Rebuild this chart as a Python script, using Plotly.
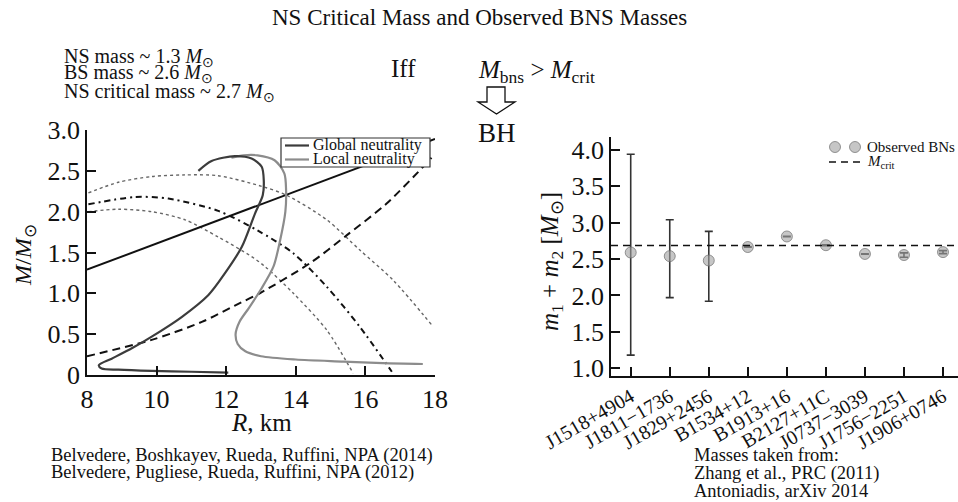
import plotly.graph_objects as go

W, H = 958, 502
FONT = "Liberation Serif"

# ---------------- Left panel data (R in km, M in solar masses) ----------------
global_R = [12.06, 11.0, 9.86, 8.9, 8.42, 8.34, 8.71, 9.3, 9.86, 10.72, 11.49, 11.97, 12.45, 12.83, 13.05, 13.08, 13.02, 12.73, 12.25, 11.58, 11.2]
global_M = [0.03, 0.04, 0.05, 0.065, 0.08, 0.12, 0.2, 0.33, 0.47, 0.71, 0.98, 1.25, 1.57, 1.98, 2.2, 2.38, 2.55, 2.65, 2.68, 2.62, 2.5]

local_R = [17.65, 16.5, 15.37, 14.0, 13.0, 12.55, 12.33, 12.27, 12.38, 12.65, 13.0, 13.36, 13.55, 13.7, 13.72, 13.67, 13.39, 12.9, 12.5, 12.15]
local_M = [0.135, 0.145, 0.165, 0.19, 0.23, 0.29, 0.38, 0.5, 0.65, 0.82, 1.05, 1.33, 1.65, 2.0, 2.27, 2.47, 2.63, 2.69, 2.69, 2.66]

line_R = [8.0, 18.0]
line_M = [1.29, 2.89]

dashed_R = [8.0, 9.86, 11.3, 12.25, 13.0, 14.41, 15.46, 16.61, 17.66, 17.9]
dashed_M = [0.23, 0.43, 0.65, 0.85, 1.01, 1.37, 1.71, 2.1, 2.55, 2.66]

dotA_R = [8.04, 8.9, 9.86, 10.82, 11.77, 13.02, 13.74, 14.89, 15.84, 16.8, 17.95]
dotA_M = [2.23, 2.36, 2.43, 2.45, 2.44, 2.31, 2.2, 1.9, 1.53, 1.16, 0.59]

dashdot_R = [8.04, 9.38, 10.34, 11.77, 12.9, 13.93, 14.89, 15.84, 16.76]
dashdot_M = [2.09, 2.18, 2.16, 2.01, 1.77, 1.49, 1.08, 0.59, 0.04]

dotB_R = [8.04, 8.9, 9.86, 10.82, 11.77, 12.73, 13.11, 13.93, 14.89, 15.65]
dotB_M = [2.0, 2.03, 2.0, 1.9, 1.69, 1.45, 1.33, 1.0, 0.55, 0.02]

left_xticks = [8, 10, 12, 14, 16, 18]
left_yticks = [0, 0.5, 1.0, 1.5, 2.0, 2.5, 3.0]
left_yticktext = ["0", "0.5", "1.0", "1.5", "2.0", "2.5", "3.0"]

# ---------------- Right panel data ----------------
systems = ["J1518+4904", "J1811\u22121736", "J1829+2456", "B1534+12", "B1913+16",
           "B2127+11C", "J0737\u22123039", "J1756\u22122251", "J1906+0746"]
total_mass = [2.59, 2.54, 2.48, 2.665, 2.81, 2.69, 2.57, 2.555, 2.595]
err_plus = [1.35, 0.50, 0.40, 0.003, 0.002, 0.006, 0.002, 0.03, 0.02]
err_minus = [1.41, 0.57, 0.56, 0.003, 0.002, 0.006, 0.002, 0.03, 0.02]
M_CRIT = 2.685
right_yticks = [1.0, 1.5, 2.0, 2.5, 3.0, 3.5, 4.0]


def px(x):
    return x / W


def py(y):
    return 1 - y / H


fig = go.Figure()

def add_line(R, M, color, width, dash, shape="spline"):
    fig.add_trace(go.Scatter(x=R, y=M, mode="lines", xaxis="x", yaxis="y",
                             line=dict(color=color, width=width, dash=dash, shape=shape, smoothing=0.8),
                             showlegend=False, hoverinfo="skip"))

add_line(dotA_R, dotA_M, "#666666", 1.4, "dot")
add_line(dotB_R, dotB_M, "#666666", 1.4, "dot")
add_line(dashdot_R, dashdot_M, "#111111", 2, "6px,4px,2px,4px")
add_line(dashed_R, dashed_M, "#111111", 2, "8px,5px")
add_line(line_R, line_M, "#111111", 2, "solid", "linear")
add_line(local_R, local_M, "#8c8c8c", 2.2, "solid")
add_line(global_R, global_M, "#3c3c3c", 2.2, "solid")

# Right panel
fig.add_trace(go.Scatter(
    x=systems, y=total_mass, mode="markers", xaxis="x2", yaxis="y2",
    marker=dict(size=11, color="rgba(160,160,160,0.6)", line=dict(color="rgba(110,110,110,0.7)", width=1)),
    error_y=dict(type="data", symmetric=False, array=err_plus, arrayminus=err_minus,
                 color="#333333", thickness=1.6, width=4),
    showlegend=False, hoverinfo="skip"))

axis_common = dict(showline=True, linecolor="#111111", linewidth=1.5, ticks="inside", ticklen=9,
                   tickwidth=1.5, tickcolor="#111111", showgrid=False, zeroline=False, automargin=False,
                   tickfont=dict(family=FONT, size=26, color="#111111"))

fig.update_layout(
    width=W, height=H,
    margin=dict(l=0, r=0, t=0, b=0, autoexpand=False),
    paper_bgcolor="white", plot_bgcolor="white",
    font=dict(family=FONT, color="#111111"),
    xaxis=dict(domain=[px(87), px(435)], range=[8, 18], tickvals=left_xticks, anchor="y", **axis_common),
    yaxis=dict(domain=[py(375), py(130)], range=[0, 3], tickvals=left_yticks, ticktext=left_yticktext,
               anchor="x", **axis_common),
    xaxis2=dict(domain=[px(611), 1.0], range=[-0.505, 8.384], type="category", categoryorder="array",
                categoryarray=systems, tickangle=-30, anchor="y2",
                **{**axis_common, "tickfont": dict(family=FONT, size=20, color="#111111")}),
    yaxis2=dict(domain=[py(375.7), py(136.7)], range=[0.898, 4.18], tickvals=right_yticks,
                tickformat=".1f", anchor="x2", **axis_common),
)

shapes = []
# M_crit line
shapes.append(dict(type="line", xref="x2 domain", x0=0, x1=1, yref="y2", y0=M_CRIT, y1=M_CRIT,
                   line=dict(color="#111111", width=1.6, dash="7px,5px")))
# hollow arrow
pts = [(487, 87), (505, 87), (505, 102), (515, 102), (496.5, 114), (478, 102), (487, 102)]
path = "M " + " L ".join(f"{px(a):.5f},{py(b):.5f}" for a, b in pts) + " Z"
shapes.append(dict(type="path", xref="paper", yref="paper", path=path,
                   line=dict(color="#111111", width=1.3), fillcolor="white"))
# left legend box
shapes.append(dict(type="rect", xref="paper", yref="paper", x0=px(281), x1=px(430), y0=py(167), y1=py(138),
                   line=dict(color="#333333", width=1.2), fillcolor="white"))
shapes.append(dict(type="line", xref="paper", yref="paper", x0=px(285), x1=px(309), y0=py(145.5), y1=py(145.5),
                   line=dict(color="#3c3c3c", width=2.2)))
shapes.append(dict(type="line", xref="paper", yref="paper", x0=px(285), x1=px(309), y0=py(159.5), y1=py(159.5),
                   line=dict(color="#8c8c8c", width=2.2)))
# right legend
for cx in (835, 855):
    shapes.append(dict(type="circle", xref="paper", yref="paper", x0=px(cx - 5.5), x1=px(cx + 5.5),
                       y0=py(147 + 5.5), y1=py(147 - 5.5),
                       fillcolor="rgba(160,160,160,0.6)", line=dict(color="rgba(110,110,110,0.7)", width=1)))
shapes.append(dict(type="line", xref="paper", yref="paper", x0=px(829), x1=px(861), y0=py(162), y1=py(162),
                   line=dict(color="#111111", width=1.6, dash="7px,5px")))
fig.update_layout(shapes=shapes)


def ann(text, x, y, size, xanchor="left", yanchor="middle", angle=0):
    fig.add_annotation(text=text, x=px(x), y=py(y), xref="paper", yref="paper", showarrow=False,
                       xanchor=xanchor, yanchor=yanchor, textangle=angle,
                       font=dict(family=FONT, size=size, color="#111111"))

SUN = "\u2299"
ann("NS Critical Mass and Observed BNS Masses", 479, 18, 23, xanchor="center")
ann(f"NS mass ~ 1.3 <i>M</i><sub>{SUN}</sub>", 62, 57, 20)
ann(f"BS mass ~ 2.6 <i>M</i><sub>{SUN}</sub>", 62, 74, 20)
ann(f"NS critical mass ~ 2.7 <i>M</i><sub>{SUN}</sub>", 62, 92, 20)
ann("Iff", 389, 68, 25)
ann("<i>M</i><sub>bns</sub> > <i>M</i><sub>crit</sub>", 476, 72, 25)
ann("BH", 476, 133, 27)
ann(f"<i>M</i>/<i>M</i><sub>{SUN}</sub>", 25, 255, 24, xanchor="center", angle=-90)
ann("<i>R</i>, km", 261, 422, 25, xanchor="center")
ann(f"<i>m</i><sub>1</sub> + <i>m</i><sub>2</sub> [<i>M</i><sub>{SUN}</sub>]", 551, 262, 25,
    xanchor="center", angle=-90)
ann("Global neutrality", 311, 145, 16)
ann("Local neutrality", 311, 159, 16)
ann("Observed BNs", 865, 147, 15)
ann("<i>M</i><sub>crit</sub>", 865, 162, 15)
ann("Belvedere, Boshkayev, Rueda, Ruffini, NPA (2014)", 49, 455, 18.5)
ann("Belvedere, Pugliese, Rueda, Ruffini, NPA (2012)", 49, 472, 18.5)
ann("Masses taken from:", 692, 455, 18.5)
ann("Zhang et al., PRC (2011)", 692, 473, 18.5)
ann("Antoniadis, arXiv 2014", 692, 491, 18.5)

fig.write_html("out.html")
